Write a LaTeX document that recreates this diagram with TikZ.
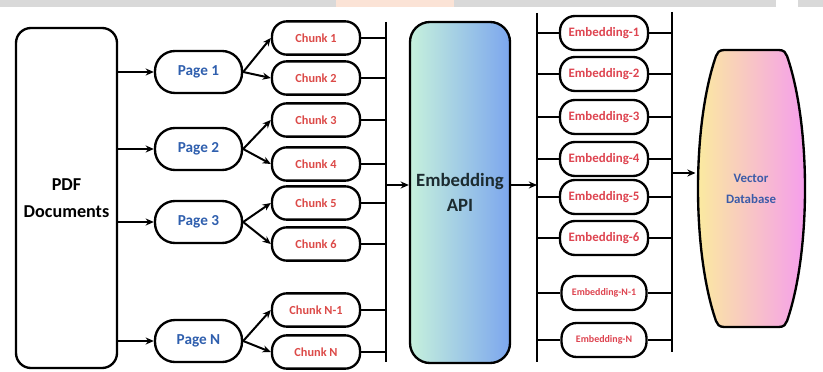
\documentclass[tikz,border=0pt]{standalone}
\usepackage{fontspec}
\setmainfont{Carlito}
\usepackage{tikz}
\usetikzlibrary{arrows.meta, backgrounds}
\definecolor{pageBlue}{HTML}{2F5FAE}
\definecolor{chunkRed}{HTML}{DC4A48}
\definecolor{embRed}{HTML}{DE4450}
\definecolor{apiInk}{HTML}{1C2B30}
\definecolor{dbInk}{HTML}{3B5BA8}
\definecolor{apiMint}{HTML}{C6F1DC}
\definecolor{apiBlue}{HTML}{7CA6EE}
\definecolor{dbYellow}{HTML}{FBEE9C}
\definecolor{dbPeach}{HTML}{F9CDB6}
\definecolor{dbPink}{HTML}{F59AF0}
\definecolor{topGrey}{HTML}{D9D9D9}
\definecolor{topPeach}{HTML}{FBE3D6}

\begin{document}
\begin{tikzpicture}[x=0.03cm, y=-0.03cm, line width=1.7pt,
  box/.style={draw=black, line width=2pt, fill=white, inner sep=2pt, align=center},
  pagebox/.style={box, rounded corners=0.6cm, minimum width=2.61cm, minimum height=1.26cm, text=pageBlue, font=\fontsize{13}{15}\selectfont\bfseries},
  chunkbox/.style={box, rounded corners=0.45cm, minimum width=2.64cm, minimum height=1cm, text=chunkRed, font=\fontsize{10.5}{12}\selectfont\bfseries},
  embbox/.style={box, rounded corners=0.45cm, minimum width=2.64cm, minimum height=1.02cm, text=embRed, font=\fontsize{11}{13}\selectfont\bfseries},
  link/.style={-{Stealth[length=7pt, width=6pt]}, line width=1.7pt},
  bar/.style={line width=2.2pt}]
  \useasboundingbox (0,0) rectangle (823,372);
  % strip along the top
  \fill[topGrey] (0,0) rectangle (823,7);
  \fill[topPeach] (336,0) rectangle (454,7);
  \fill[white] (776,0) rectangle (798,7);

  % source
  \node[box, rounded corners=0.45cm, minimum width=3.03cm, minimum height=10.2cm, font=\fontsize{15.5}{23}\selectfont\bfseries] (pdf) at (66.5,198) {PDF\\Documents};

  % pages
  \node[pagebox] (p1) at (198.5,72) {Page 1};
  \node[pagebox] (p2) at (198.5,149) {Page 2};
  \node[pagebox] (p3) at (198.5,222) {Page 3};
  \node[pagebox] (pN) at (198.5,341) {Page N};

  % chunks
  \node[chunkbox] (c1) at (316,38) {Chunk 1};
  \node[chunkbox] (c2) at (316,78) {Chunk 2};
  \node[chunkbox] (c3) at (316,120) {Chunk 3};
  \node[chunkbox] (c4) at (316,164) {Chunk 4};
  \node[chunkbox] (c5) at (316,203) {Chunk 5};
  \node[chunkbox] (c6) at (316,244) {Chunk 6};
  \node[chunkbox] (cN1) at (316,310) {Chunk N-1};
  \node[chunkbox] (cN) at (316,352) {Chunk N};

  % embedding api
  \node[box, rounded corners=0.6cm, minimum width=3.0cm, minimum height=10.23cm, left color=apiMint, right color=apiBlue, text=apiInk, font=\fontsize{16}{21}\selectfont\bfseries] (api) at (460,192.5) {Embedding\\API};

  % embeddings
  \node[embbox] (e1) at (604,33) {Embedding-1};
  \node[embbox] (e2) at (604,74) {Embedding-2};
  \node[embbox] (e3) at (604,117) {Embedding-3};
  \node[embbox] (e4) at (604,159) {Embedding-4};
  \node[embbox] (e5) at (604,197) {Embedding-5};
  \node[embbox] (e6) at (604,238) {Embedding-6};
  \node[embbox, minimum width=2.55cm, font=\fontsize{8.5}{10}\selectfont\bfseries] (eN1) at (604,293) {Embedding-N-1};
  \node[embbox, minimum width=2.55cm, font=\fontsize{8.5}{10}\selectfont\bfseries] (eN) at (604,340) {Embedding-N};

  % vector database (barrel)
  \node[minimum width=3.27cm, minimum height=8.31cm, text=dbInk, align=center, font=\fontsize{11}{17.6}\selectfont\bfseries] (db) at (751,189) {Vector\\Database};
  \begin{scope}[on background layer]
    \draw[line width=2pt, left color=dbYellow, middle color=dbPeach, right color=dbPink]
      (724,50) -- (779,50) .. controls (784,50) and (786,53) .. (787,56)
      .. controls (811,125) and (811,252) .. (787,321)
      .. controls (786,324) and (784,327) .. (779,327) -- (724,327)
      .. controls (719,327) and (717,324) .. (716,321)
      .. controls (692,252) and (692,125) .. (716,56)
      .. controls (717,53) and (719,50) .. (724,50) -- cycle;
  \end{scope}

  % bars
  \coordinate (chunkbarT) at (386,22);
  \coordinate (chunkbarB) at (386,362);
  \coordinate (embbarLT) at (537,13);
  \coordinate (embbarLB) at (537,362);
  \coordinate (embbarRT) at (672,12);
  \coordinate (embbarRB) at (672,352);
  \coordinate (apiin) at (386,185);
  \coordinate (dbin) at (672,173);
  \draw[bar] (chunkbarT) -- (chunkbarB);
  \draw[bar] (embbarLT) -- (embbarLB);
  \draw[bar] (embbarRT) -- (embbarRB);

  % arrows
  \foreach \p in {p1,p2,p3,pN} \draw[link] (pdf.east |- \p) -- (\p.west);
  \foreach \p/\c in {p1/c1,p1/c2,p2/c3,p2/c4,p3/c5,p3/c6,pN/cN1,pN/cN}
    \draw[link] (\p.east) -- (\c.west);
  \foreach \c in {c1,c2,c3,c4,c5,c6,cN1,cN} \draw (\c.east) -- (\c.east -| chunkbarT);
  \draw[link] (apiin) -- (apiin -| api.west);
  \draw[link] (api.east |- apiin) -- (apiin -| embbarLT);
  \foreach \e in {e1,e2,e3,e4,e5,e6,eN1,eN} {
    \draw (\e.west -| embbarLT) -- (\e.west);
    \draw (\e.east) -- (\e.east -| embbarRT);
  }
  \draw[link] (dbin) -- (dbin -| db.west);
\end{tikzpicture}
\end{document}
